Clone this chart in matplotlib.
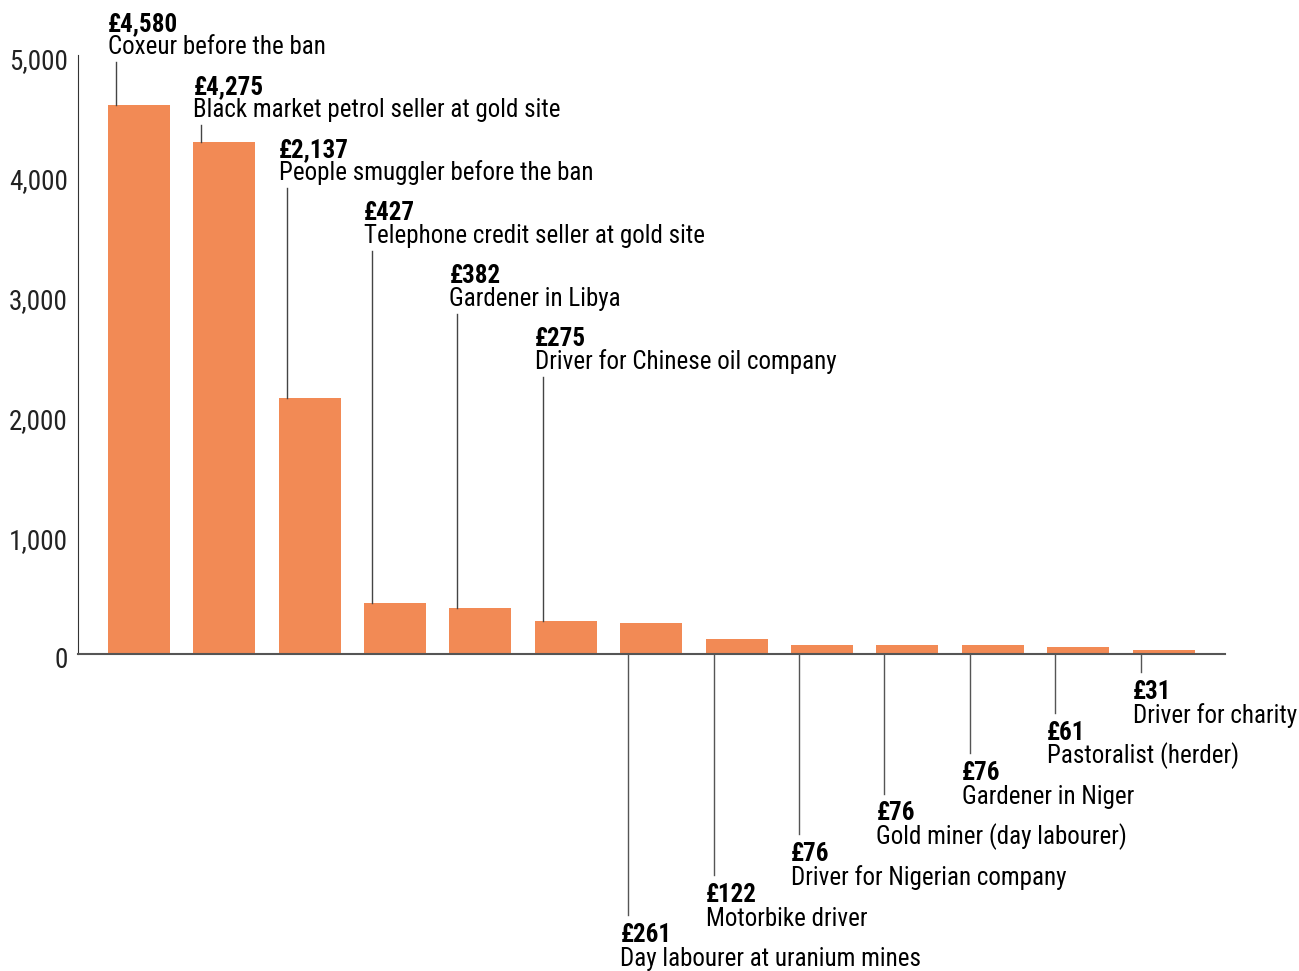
import matplotlib.pyplot as plt
from matplotlib import font_manager
from matplotlib.font_manager import FontProperties
from matplotlib.transforms import ScaledTranslation, blended_transform_factory

# earnings per month (GBP)
jobs = ["Coxeur before the ban", "Black market petrol seller at gold site",
        "People smuggler before the ban", "Telephone credit seller at gold site",
        "Gardener in Libya", "Driver for Chinese oil company",
        "Day labourer at uranium mines", "Motorbike driver",
        "Driver for Nigerian company", "Gold miner (day labourer)",
        "Gardener in Niger", "Pastoralist (herder)", "Driver for charity"]
values = [4580, 4275, 2137, 427, 382, 275, 261, 122, 76, 76, 76, 61, 31]
yticks = [0, 1000, 2000, 3000, 4000, 5000]


# find a narrow sans font (the original uses a condensed Helvetica)
def pick(bold):
    prefs = ["Liberation Sans Narrow", "Roboto Condensed", "Open Sans Condensed",
             "DejaVu Sans", "Noto Sans", "Roboto", "Open Sans"]
    cands = []
    for f in font_manager.fontManager.ttflist:
        if f.style != "normal":
            continue
        isbold = f.weight in (600, 700, "bold", "semibold", "demibold")
        if isbold != bold:
            continue
        narrow = f.stretch in ("condensed", "semi-condensed", "extra-condensed") \
            or "Narrow" in f.name or "Condensed" in f.name or "ondensed" in f.fname
        if not narrow:
            continue
        r = prefs.index(f.name) if f.name in prefs else 50
        cands.append((r, f.fname))
    if cands:
        return FontProperties(fname=sorted(cands)[0][1])
    return FontProperties(family="DejaVu Sans", weight="bold" if bold else "normal")


fp = pick(False)
fpb = pick(True)

fig = plt.figure(figsize=(12.99, 9.71), dpi=100)
ax = fig.add_axes([78/1299, 1-654/971, (1225-78)/1299, (654-55)/971])

n = len(values)
w = 0.726
x = list(range(n))
ax.bar(x, values, width=w, color="#F28A55", zorder=2)
ax.set_xlim(-0.714, 12.72)
ax.set_ylim(0, 5000)

# y tick labels, drawn as text so they sit a little below the tick value
ax.set_yticks(yticks)
ax.set_yticklabels([])
ax.tick_params(axis="y", length=0)
tr = blended_transform_factory(ax.transAxes, ax.transData) + \
    ScaledTranslation(-10/100, -7/100, fig.dpi_scale_trans)
for v in yticks:
    ax.text(0, v, f"{v:,}", transform=tr, ha="right", va="center",
            fontproperties=fp, fontsize=19.5, color="#222222")

ax.set_xticks([])
for s in ["top", "right"]:
    ax.spines[s].set_visible(False)
ax.spines["left"].set_color("#333333")
ax.spines["bottom"].set_color("#555555")
ax.spines["bottom"].set_linewidth(1.5)
ax.spines["bottom"].set_zorder(3)

px = 5000 / (654 - 55)  # data units per pixel


def y_of(p):
    return (654 - p) * px


for i, (job, v) in enumerate(zip(jobs, values)):
    lx = i - w/2 + 8/85.4
    tx = i - w/2
    if i < 6:
        top = 62 + 63*i
        ax.plot([lx, lx], [v, y_of(top)], color="#444444", lw=1, clip_on=False)
        ax.text(tx, y_of(top - 31), f"£{v:,}", fontproperties=fpb, fontsize=18,
                va="baseline", ha="left", clip_on=False)
        ax.text(tx, y_of(top - 8), job, fontproperties=fp, fontsize=18,
                va="baseline", ha="left", clip_on=False)
    else:
        k = n - 1 - i
        end = 672 + 40.5*k
        ax.plot([lx, lx], [0, y_of(end)], color="#555555", lw=1, clip_on=False)
        ax.text(tx, y_of(end + 27), f"£{v:,}", fontproperties=fpb, fontsize=18,
                va="baseline", ha="left", clip_on=False)
        ax.text(tx, y_of(end + 51), job, fontproperties=fp, fontsize=18,
                va="baseline", ha="left", clip_on=False)

fig.savefig("out.png", dpi=100)
